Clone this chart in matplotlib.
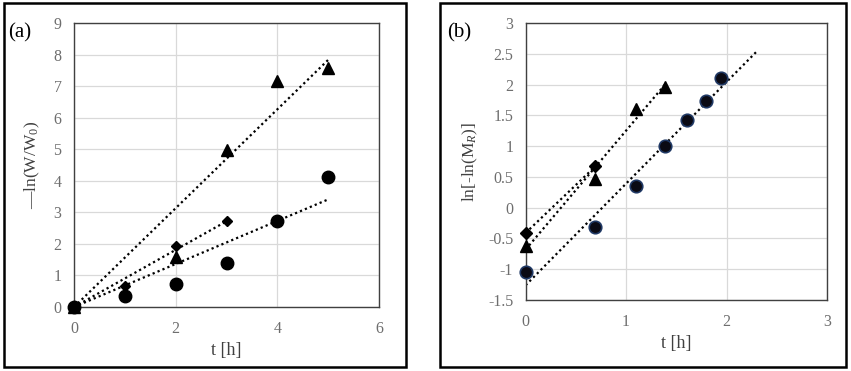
import numpy as np
import matplotlib
matplotlib.use('Agg')
import matplotlib.pyplot as plt
from matplotlib.patches import Rectangle

plt.rcParams['font.family'] = ['Liberation Serif', 'DejaVu Serif']
plt.rcParams['mathtext.fontset'] = 'custom'
plt.rcParams['mathtext.rm'] = 'Liberation Serif'
plt.rcParams['mathtext.it'] = 'Liberation Serif:italic'

# ---- panel (a) data: -ln(W/W0) vs t ----
a_tri_t = [0, 2, 3, 4, 5]
a_tri_y = [0, 1.58, 4.99, 7.15, 7.57]
a_dia_t = [0, 1, 2, 3]
a_dia_y = [0, 0.66, 1.93, 2.72]
a_cir_t = [0, 1, 2, 3, 4, 5]
a_cir_y = [0, 0.34, 0.72, 1.40, 2.72, 4.13]

# ---- panel (b) data: ln[-ln(MR)] vs ln t ----
b_dia_t = [0, 0.693]
b_dia_y = [-0.41, 0.67]
b_tri_t = [0, 0.693, 1.099, 1.386]
b_tri_y = [-0.62, 0.47, 1.61, 1.96]
b_cir_t = [0, 0.693, 1.099, 1.386, 1.609, 1.792, 1.946]
b_cir_y = [-1.04, -0.32, 0.355, 1.0, 1.42, 1.73, 2.11]

GRID = '#d9d9d9'
TICK = '#6e6e6e'
DOTS = (0, (1, 1.4))


def fit_origin(x, y):
    # trendline with intercept fixed at 0
    x = np.asarray(x, float)
    y = np.asarray(y, float)
    return np.sum(x * y) / np.sum(x * x)


def fit_line(x, y):
    k, b = np.polyfit(x, y, 1)
    return k, b


def style_axes(ax, xlim, ylim, xt, yt):
    ax.set_xlim(*xlim)
    ax.set_ylim(*ylim)
    ax.set_xticks(xt)
    ax.set_yticks(yt)
    ax.set_xticklabels([f'{v:g}' for v in xt])
    ax.set_yticklabels([f'{v:g}' for v in yt])
    ax.grid(True, color=GRID, lw=0.9)
    ax.set_axisbelow(True)
    ax.tick_params(length=0, colors=TICK, labelsize=11.5)
    ax.tick_params(axis='x', pad=10)
    ax.tick_params(axis='y', pad=9)
    for s in ax.spines.values():
        s.set_color('#404040')
        s.set_linewidth(1.0)


fig = plt.figure(figsize=(8.51, 3.71), dpi=100)

# outer frames around each panel
fig.patches.append(Rectangle((0.0047, 0.0108), 0.4718, 0.981, transform=fig.transFigure,
                             fill=False, ec='black', lw=1.8))
fig.patches.append(Rectangle((0.5170, 0.0108), 0.4767, 0.981, transform=fig.transFigure,
                             fill=False, ec='black', lw=1.8))

# ---------------- (a) ----------------
ax1 = fig.add_axes([0.0870, 0.1725, 0.3584, 0.7655])
style_axes(ax1, (0, 6), (0, 9), [0, 2, 4, 6], list(range(10)))

for t, y in [(a_tri_t, a_tri_y), (a_dia_t, a_dia_y), (a_cir_t, a_cir_y)]:
    k = fit_origin(t, y)
    xx = np.array([0, max(t)])
    ax1.plot(xx, k * xx, color='black', lw=1.6, ls=DOTS, zorder=2)

ax1.plot(a_cir_t, a_cir_y, 'o', color='black', ms=9, zorder=3, clip_on=False)
ax1.plot(a_tri_t, a_tri_y, '^', color='black', ms=9, zorder=3, clip_on=False)
ax1.plot(a_dia_t, a_dia_y, 'D', color='black', ms=5.5, zorder=4, clip_on=False)

ax1.set_xlabel('t [h]', fontsize=13, color='#404040', labelpad=4)
ax1.set_ylabel('—ln(W/W$_0$)', fontsize=12.5, color='#404040', labelpad=8)
fig.text(0.009, 0.912, '(a)', fontsize=15, color='black', va='center', ha='left')

# ---------------- (b) ----------------
ax2 = fig.add_axes([0.6177, 0.1914, 0.3541, 0.7466])
style_axes(ax2, (0, 3), (-1.5, 3), [0, 1, 2, 3], [-1.5, -1, -0.5, 0, 0.5, 1, 1.5, 2, 2.5, 3])

k, b = fit_line(b_dia_t, b_dia_y)
xx = np.array([0, max(b_dia_t)])
ax2.plot(xx, k * xx + b, color='black', lw=1.6, ls=DOTS, zorder=2)
k, b = fit_line(b_tri_t, b_tri_y)
xx = np.array([0, max(b_tri_t)])
ax2.plot(xx, k * xx + b, color='black', lw=1.6, ls=DOTS, zorder=2)
k, b = fit_line(b_cir_t, b_cir_y)
xx = np.array([0, 2.3])
ax2.plot(xx, k * xx + b, color='black', lw=1.6, ls=DOTS, zorder=2)

ax2.plot(b_cir_t, b_cir_y, 'o', color='#0a0a14', mec='#1f3864', mew=1.2, ms=9, zorder=3, clip_on=False)
ax2.plot(b_tri_t, b_tri_y, '^', color='black', ms=9, zorder=3, clip_on=False)
ax2.plot(b_dia_t, b_dia_y, 'D', color='black', ms=6, zorder=4, clip_on=False)

ax2.set_xlabel('t [h]', fontsize=13, color='#404040', labelpad=4)
ax2.set_ylabel('ln[-ln(M$_R$)]', fontsize=12.5, color='#404040', labelpad=6)
fig.text(0.525, 0.912, '(b)', fontsize=15, color='black', va='center', ha='left')

fig.savefig('out.png', dpi=100)
